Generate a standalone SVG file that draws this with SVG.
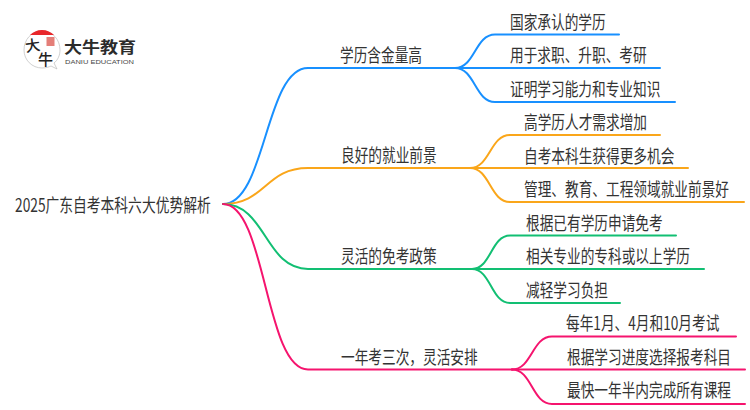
<svg xmlns="http://www.w3.org/2000/svg" width="750" height="410" viewBox="0 0 750 410">
<style>
text{font-family:"Noto Sans CJK SC","Liberation Sans",sans-serif;font-size:18px;fill:#333}
.c{fill:none;stroke-width:2;stroke-linecap:round}
.b{stroke:#1890ff}.o{stroke:#faa61a}.g{stroke:#12bf73}.p{stroke:#f5146e}
</style>
<rect width="750" height="410" fill="#fff"/>
<g id="logo">
<path d="M42 31C31 31 24 40 24 50C24 60 32 68 42 68C46 68 49 67 51 66L57 69L54 63C58 60 60 55 60 50C60 40 53 31 42 31Z" fill="#fff" stroke="#bbb" stroke-width=".7"/>
<path d="M30 35C33 32 37 30 42 30C47 30 51 32 54 35Z" fill="#e8262a"/>
<rect x="46.500" y="37" width="8" height="9" fill="#d9473f" opacity=".7"/>
<text transform="translate(26,52) rotate(-8)" style="font-size:15px;fill:#222;font-weight:500">大</text>
<text transform="translate(38,65)" style="font-size:15px;fill:#222;font-weight:500">牛</text>
<text x="64" y="53" style="font-size:15.500px;font-weight:700;fill:#2b2b2b" textLength="72" lengthAdjust="spacingAndGlyphs">大牛教育</text>
<text x="65" y="64" style="font-size:6px;font-family:'Liberation Sans';fill:#444" textLength="69" lengthAdjust="spacingAndGlyphs">DANIU EDUCATION</text>
</g>
<g id="connectors">
<path class="c b" d="M223 204C266 204 265 68 308 68H455"/>
<path class="c b" d="M455 68C475 68 475 34.500 495 34.500H619"/>
<path class="c b" d="M455 68H660"/>
<path class="c b" d="M455 68C475 68 475 102 495 102H675"/>
<path class="c o" d="M223 204C266 204 265 168 308 168H470"/>
<path class="c o" d="M470 168C490 168 490 135 510 135H660"/>
<path class="c o" d="M470 168H688"/>
<path class="c o" d="M470 168C490 168 490 202 510 202H744"/>
<path class="c g" d="M223 204C266 204 265 269 308 269H472"/>
<path class="c g" d="M472 269C491 269 491 235.500 510 235.500H676"/>
<path class="c g" d="M472 269H704"/>
<path class="c g" d="M472 269C491 269 491 303 510 303H620"/>
<path class="c p" d="M223 204C266 204 265 369.500 308 369.500H512"/>
<path class="c p" d="M512 369.500C532 369.500 532 336.500 552 336.500H736"/>
<path class="c p" d="M512 369.500H745"/>
<path class="c p" d="M512 369.500C532 369.500 532 404 552 404H745"/>
</g>
<g id="root"><text transform="translate(15,212) scale(.765,1)">2025广东自考本科六大优势解析</text></g>
<g id="n1"><text transform="translate(340,62) scale(.76,1)">学历含金量高</text></g>
<g id="n1a"><text transform="translate(510,29) scale(.76,1)">国家承认的学历</text></g>
<g id="n1b"><text transform="translate(510,62) scale(.76,1)">用于求职、升职、考研</text></g>
<g id="n1c"><text transform="translate(510,96) scale(.76,1)">证明学习能力和专业知识</text></g>
<g id="n2"><text transform="translate(341,162) scale(.76,1)">良好的就业前景</text></g>
<g id="n2a"><text transform="translate(524,129) scale(.76,1)">高学历人才需求增加</text></g>
<g id="n2b"><text transform="translate(524,163) scale(.76,1)">自考本科生获得更多机会</text></g>
<g id="n2c"><text transform="translate(524,196) scale(.76,1)">管理、教育、工程领域就业前景好</text></g>
<g id="n3"><text transform="translate(341,263) scale(.76,1)">灵活的免考政策</text></g>
<g id="n3a"><text transform="translate(526,230) scale(.76,1)">根据已有学历申请免考</text></g>
<g id="n3b"><text transform="translate(526,263) scale(.76,1)">相关专业的专科或以上学历</text></g>
<g id="n3c"><text transform="translate(526,297) scale(.76,1)">减轻学习负担</text></g>
<g id="n4"><text transform="translate(341,364) scale(.76,1)">一年考三次，灵活安排</text></g>
<g id="n4a"><text transform="translate(566,330) scale(.76,1)">每年1月、4月和10月考试</text></g>
<g id="n4b"><text transform="translate(567,364) scale(.76,1)">根据学习进度选择报考科目</text></g>
<g id="n4c"><text transform="translate(567,397) scale(.76,1)">最快一年半内完成所有课程</text></g>
</svg>
